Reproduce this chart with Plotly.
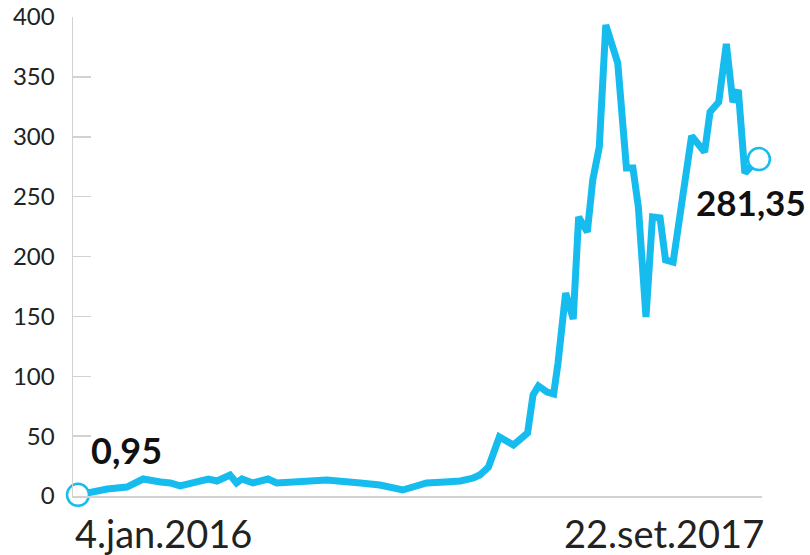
import plotly.graph_objects as go

dates = [
    "2016-01-04", "2016-01-15", "2016-01-31", "2016-02-18", "2016-03-04", "2016-03-20",
    "2016-03-29", "2016-04-07", "2016-04-19", "2016-05-03", "2016-05-11", "2016-05-23",
    "2016-05-29", "2016-06-03", "2016-06-13", "2016-06-27", "2016-07-05", "2016-07-26",
    "2016-08-20", "2016-09-20", "2016-10-08", "2016-10-29", "2016-11-20", "2016-12-07",
    "2016-12-21", "2017-01-02", "2017-01-08", "2017-01-16", "2017-01-20", "2017-01-26",
    "2017-02-08", "2017-02-16", "2017-02-21", "2017-02-26", "2017-03-03", "2017-03-11",
    "2017-03-17", "2017-03-21", "2017-03-28", "2017-04-04", "2017-04-09", "2017-04-17",
    "2017-04-22", "2017-04-28", "2017-05-04", "2017-05-15", "2017-05-23", "2017-05-29",
    "2017-06-03", "2017-06-10", "2017-06-16", "2017-06-23", "2017-06-28", "2017-07-05",
    "2017-07-22", "2017-08-03", "2017-08-08", "2017-08-16", "2017-08-23", "2017-08-29",
    "2017-09-03", "2017-09-09", "2017-09-22",
]
values = [
    0.95, 3.3, 5.8, 7.5, 14.2, 11.7,
    10.9, 8.4, 10.9, 14.2, 12.5, 17.5,
    10.9, 14.2, 10.9, 14.2, 10.9, 11.7,
    13.4, 10.9, 9.2, 5.0, 10.9, 11.7,
    12.5, 15.0, 17.5, 24.2, 35.9, 49.3,
    42.6, 49.3, 52.6, 84.3, 91.9, 86.8,
    85.2, 111.1, 169.5, 147.8, 233.0, 220.5,
    263.9, 291.4, 393.3, 361.6, 273.9, 273.9,
    241.3, 149.5, 233.0, 232.2, 197.1, 195.4,
    300.6, 287.3, 320.7, 329.0, 377.5, 329.0,
    339.0, 269.7, 281.35,
]
y_ticks = [0, 50, 100, 150, 200, 250, 300, 350, 400]
x_labels = ["4.jan.2016", "22.set.2017"]
end_labels = ["0,95", "281,35"]

BLUE = "#17bcee"
GRAY = "#d2d2d2"
FONT = "Lato"

fig = go.Figure()
fig.add_trace(go.Scatter(
    x=dates, y=values, mode="lines",
    line=dict(color=BLUE, width=7),
    hoverinfo="skip", cliponaxis=False,
))
fig.add_trace(go.Scatter(
    x=[dates[0], dates[-1]], y=[values[0], values[-1]], mode="markers",
    marker=dict(size=22, color="white", line=dict(color=BLUE, width=2.5)),
    hoverinfo="skip", cliponaxis=False,
))

# value labels
fig.add_annotation(x=dates[0], y=values[0], text="<b>%s</b>" % end_labels[0],
                   showarrow=False, xanchor="left", yanchor="middle",
                   xshift=11, yshift=45, font=dict(size=36, color="#111", family=FONT))
fig.add_annotation(x=dates[-1], y=values[-1], text="<b>%s</b>" % end_labels[1],
                   showarrow=False, xanchor="right", yanchor="middle",
                   xshift=49, yshift=-43, font=dict(size=35, color="#111", family=FONT))

# date labels
fig.add_annotation(x=dates[0], y=0, text=x_labels[0], showarrow=False,
                   xanchor="left", yanchor="top", xshift=-5, yshift=-12,
                   font=dict(size=38, color="#222", family=FONT))
fig.add_annotation(x=dates[-1], y=0, text=x_labels[1], showarrow=False,
                   xanchor="right", yanchor="top", xshift=7, yshift=-12,
                   font=dict(size=38, color="#222", family=FONT))

fig.update_layout(
    width=810, height=555,
    margin=dict(l=73, r=48, t=17, b=59, autoexpand=False),
    paper_bgcolor="white", plot_bgcolor="white",
    showlegend=False, hovermode=False,
    font=dict(family=FONT, color="#222"),
)
fig.update_xaxes(
    range=["2015-12-30 10:00", "2017-09-24 20:00"],
    showline=True, linecolor=GRAY, linewidth=1.5,
    showgrid=False, zeroline=False, showticklabels=False, ticks="",
    automargin=False,
)
fig.update_yaxes(
    range=[0, 400], tickvals=y_ticks, ticktext=[str(v) for v in y_ticks],
    showline=True, linecolor=GRAY, linewidth=1.5,
    ticks="inside", ticklen=18, tickcolor=GRAY, tickwidth=1.5,
    showgrid=False, zeroline=False,
    tickfont=dict(size=24, color="#222", family=FONT),
    ticklabelstandoff=12, automargin=False,
)

# remove the browser's default 8px body margin so the figure fills the window
fig.write_html("out.html",
               config={"displayModeBar": False, "staticPlot": True},
               post_script="document.body.style.margin='0';document.body.style.overflow='hidden';")
